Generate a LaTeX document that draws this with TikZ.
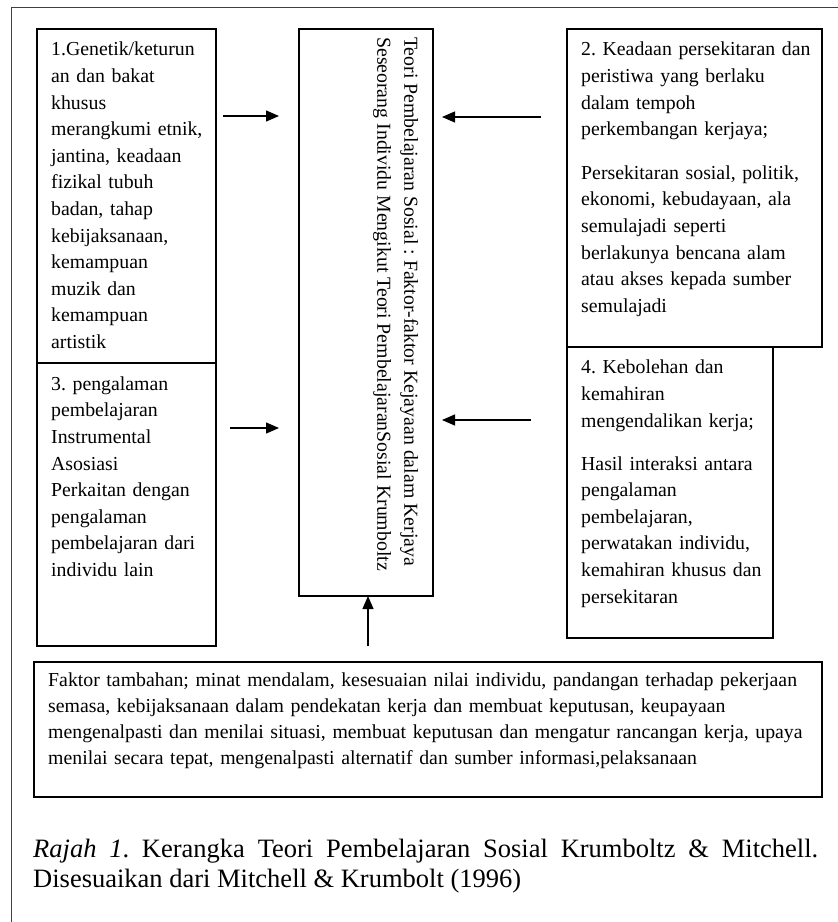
\documentclass[tikz,border=0pt]{standalone}
\usepackage{fontspec}
\setmainfont{Liberation Serif}
\usetikzlibrary{positioning,arrows.meta,calc}
\frenchspacing

\tikzset{
  kotak/.style={draw, line width=1.2pt, inner sep=0pt, outer sep=0pt, anchor=north west},
  teks/.style={inner sep=0pt, anchor=north west, align=left, text width=#1,
    font=\fontsize{19.8}{26.6}\selectfont},
  panah/.style={line width=1.2pt, -{Triangle[length=13pt,width=11pt]}},
  bingkai/.style={line width=1pt, draw=black!75}
}

\begin{document}
\begin{tikzpicture}[x=1pt,y=-1pt]
      \useasboundingbox (0,0) rectangle (838,922);
      \draw [bingkai] (11,930) -- (11,7) -- (845,7);
      % kotak utama
      \node [kotak, minimum width=134pt, minimum height=567pt] (teori) at (299,29) {};
      \node [inner sep=0pt, rotate=-90, anchor=north west, align=left,
        font=\fontsize{19.8}{27}\selectfont] (teoriteks) at (423.5,37)
        {\strut Teori Pembelajaran Sosial : Faktor-faktor Kejayaan dalam Kerjaya\\
         Seseorang Individu Mengikut Teori PembelajaranSosial Krumboltz};
      % kotak kiri
      \node [kotak, minimum width=179pt, minimum height=334pt] (genetik) at (37,29) {};
      \node [kotak, minimum width=179pt, minimum height=283pt, below=0pt of genetik.south west, anchor=north west] (pengalaman) {};
      \node [teks=160pt] (genetikteks) at ([shift={(14,8)}]genetik.north west)
        {\strut 1.Genetik/keturun\\ an dan bakat\\ khusus\\ merangkumi etnik,\\ jantina, keadaan\\
         fizikal tubuh\\ badan, tahap\\ kebijaksanaan,\\ kemampuan\\ muzik dan\\ kemampuan\\ artistik};
      \node [teks=160pt] (pengalamanteks) at ([shift={(14,8.5)}]pengalaman.north west)
        {\strut 3. pengalaman\\ pembelajaran\\ Instrumental\\ Asosiasi\\ Perkaitan dengan\\
         pengalaman\\ pembelajaran dari\\ individu lain};
      % kotak kanan
      \node [kotak, minimum width=255pt, minimum height=318pt] (keadaan) at (567,29) {};
      \node [kotak, minimum width=206pt, minimum height=291pt, below=0pt of keadaan.south west, anchor=north west] (kebolehan) {};
      \node [teks=240pt] (keadaanteks) at ([shift={(14,8)}]keadaan.north west)
        {\strut 2. Keadaan persekitaran dan\\ peristiwa yang berlaku\\ dalam tempoh\\ perkembangan kerjaya;\\[17pt]
         Persekitaran sosial, politik,\\ ekonomi, kebudayaan, ala\\ semulajadi seperti\\
         berlakunya bencana alam\\ atau akses kepada sumber\\ semulajadi};
      \node [teks=190pt] (kebolehanteks) at ([shift={(14,8)}]kebolehan.north west)
        {\strut 4. Kebolehan dan\\ kemahiran\\ mengendalikan kerja;\\[16.5pt]
         Hasil interaksi antara\\ pengalaman\\ pembelajaran,\\ perwatakan individu,\\
         kemahiran khusus dan\\ persekitaran};
      % kotak bawah
      \node [kotak, minimum width=788pt, minimum height=135pt] (tambahan) at (34,662) {};
      \node [teks=770pt, font=\fontsize{19.8}{26}\selectfont] (tambahanteks) at ([shift={(14,6)}]tambahan.north west)
        {\strut Faktor tambahan; minat mendalam, kesesuaian nilai individu, pandangan terhadap pekerjaan\\
         semasa, kebijaksanaan dalam pendekatan kerja dan membuat keputusan, keupayaan\\
         mengenalpasti dan menilai situasi, membuat keputusan dan mengatur rancangan kerja, upaya\\
         menilai secara tepat, mengenalpasti alternatif dan sumber informasi,pelaksanaan};
      % anak panah
      \coordinate (p1) at (223,116);
      \coordinate (p3) at (230,428);
      \coordinate (p2) at (541,117);
      \coordinate (p4) at (531,420);
      \coordinate (p5) at (368,646);
      \draw [panah, shorten >=20pt] (p1) -- (p1 -| teori.west);
      \draw [panah, shorten >=20pt] (p3) -- (p3 -| teori.west);
      \draw [panah, shorten >=9pt] (p2) -- (p2 -| teori.east);
      \draw [panah, shorten >=9pt] (p4) -- (p4 -| teori.east);
      \draw [panah] (p5) -- (p5 |- teori.south);
      % keterangan rajah
      \node [inner sep=0pt, anchor=north west, text width=785pt, align=justify,
        font=\fontsize{26.5}{30}\selectfont] (rajah) at (33,836)
        {\strut\textit{Rajah 1}. Kerangka Teori Pembelajaran Sosial Krumboltz \& Mitchell.\linebreak
         Disesuaikan dari Mitchell \& Krumbolt (1996)};
\end{tikzpicture}
\end{document}
